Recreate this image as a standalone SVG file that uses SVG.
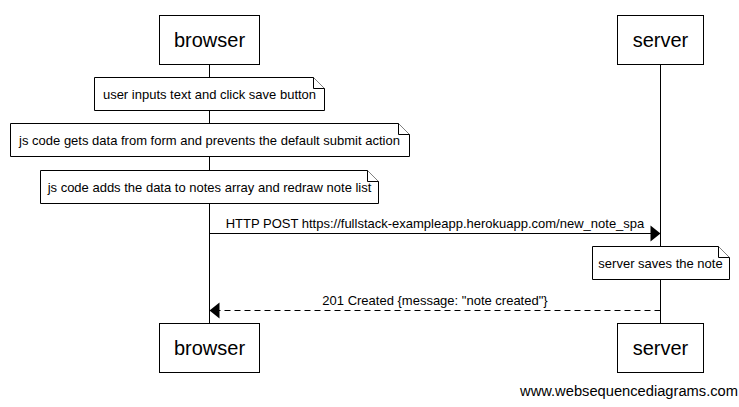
<svg xmlns="http://www.w3.org/2000/svg" width="739" height="407" viewBox="0 0 739 407">
<style>
text{font-family:"Liberation Sans",Arial,sans-serif;fill:#000}
.actor rect{fill:#fff;stroke:#000;stroke-width:1}
.actor text{font-size:20px;text-anchor:middle}
.note path{fill:#fff;stroke:#000;stroke-width:1}
.note text{font-size:13px;text-anchor:middle}
.life{stroke:#000;stroke-width:1}
.msg{stroke:#000;stroke-width:1;fill:none}
.dash{stroke-dasharray:6,4}
.lbl{font-size:13px;text-anchor:middle}
</style>
<rect width="739" height="407" fill="#fff"/>
<g id="lifelines">
<line class="life" x1="209.5" y1="64" x2="209.5" y2="323"/>
<line class="life" x1="660.5" y1="64" x2="660.5" y2="323"/>
</g>
<g id="browser-top" class="actor"><rect x="159.5" y="15.5" width="100" height="49"/><text x="209.5" y="47">browser</text></g>
<g id="server-top" class="actor"><rect x="617.5" y="15.5" width="86" height="49"/><text x="660.5" y="47">server</text></g>
<g id="browser-bottom" class="actor"><rect x="159.5" y="323.5" width="100" height="49"/><text x="209.5" y="355">browser</text></g>
<g id="server-bottom" class="actor"><rect x="617.5" y="323.5" width="86" height="49"/><text x="660.5" y="355">server</text></g>
<g id="note1" class="note"><path d="M94.5 77.5H313.5L324.5 88.5V110.5H94.5Z"/><path d="M313.5 77.5V88.5H324.5"/><text x="209.5" y="99">user inputs text and click save button</text></g>
<g id="note2" class="note"><path d="M10.5 123.5H398.5L409.5 134.5V156.5H10.5Z"/><path d="M398.5 123.5V134.5H409.5"/><text x="209.5" y="145">js code gets data from form and prevents the default submit action</text></g>
<g id="note3" class="note"><path d="M40.5 170.5H367.5L378.5 181.5V203.5H40.5Z"/><path d="M367.5 170.5V181.5H378.5"/><text x="209.5" y="192">js code adds the data to notes array and redraw note list</text></g>
<g id="note4" class="note"><path d="M592.5 246.5H718.5L729.5 257.5V279.5H592.5Z"/><path d="M718.5 246.5V257.5H729.5"/><text x="660.5" y="268">server saves the note</text></g>
<g id="connectors">
<line class="msg" x1="209.5" y1="233.5" x2="652" y2="233.5"/>
<path d="M660.5 233.5L650.5 225.5V241.5Z" fill="#000"/>
<text class="lbl" x="435" y="228">HTTP POST https://fullstack-exampleapp.herokuapp.com/new_note_spa</text>
<line class="msg dash" x1="660.5" y1="310.5" x2="218" y2="310.5"/>
<path d="M209.5 310.5L219.5 302.5V318.5Z" fill="#000"/>
<text class="lbl" x="435" y="305">201 Created {message: "note created"}</text>
</g>
<text x="738" y="396" font-size="14.7" text-anchor="end">www.websequencediagrams.com</text>
</svg>
